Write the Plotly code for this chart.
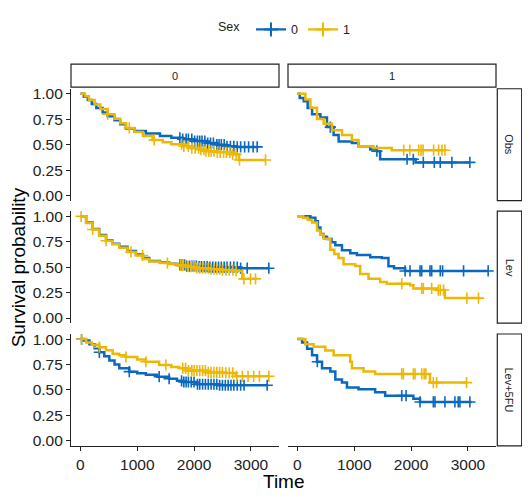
import numpy as np
import plotly.graph_objects as go

# ---------------- data ----------------
ROW_LABELS = ["Obs", "Lev", "Lev+5FU"]
COL_LABELS = ["0", "1"]
SEX_LEVELS = ["0", "1"]
X_TICKS = [0, 1000, 2000, 3000]
Y_TICKS = [0.0, 0.25, 0.5, 0.75, 1.0]
Y_TICK_TEXT = ["0.00", "0.25", "0.50", "0.75", "1.00"]

# Obs / column 0
obs_c0_s0_t = [0, 60, 130, 200, 280, 391, 480, 600, 700, 801, 950, 1152, 1400, 1600, 1795, 2000, 2205, 2400, 2556, 2750, 3111]
obs_c0_s0_s = [1.0, 0.97, 0.94, 0.90, 0.86, 0.816, 0.78, 0.74, 0.70, 0.658, 0.635, 0.61, 0.585, 0.568, 0.554, 0.535, 0.516, 0.50, 0.484, 0.478, 0.478]
obs_c0_s0_cens = [1750, 1800, 1860, 1900, 1960, 2010, 2060, 2100, 2140, 2190, 2240, 2290, 2340, 2400, 2440, 2480, 2530, 2580, 2640, 2700, 2760, 2820, 2890, 2960, 3040, 3111]
obs_c0_s1_t = [0, 80, 150, 250, 350, 479, 600, 700, 801, 950, 1100, 1269, 1450, 1600, 1795, 1950, 2100, 2205, 2400, 2672, 2789, 3258]
obs_c0_s1_s = [1.0, 0.975, 0.94, 0.895, 0.85, 0.80, 0.755, 0.71, 0.665, 0.625, 0.585, 0.547, 0.525, 0.505, 0.484, 0.465, 0.45, 0.436, 0.425, 0.405, 0.35, 0.35]
obs_c0_s1_cens = [479, 860, 1298, 1780, 1820, 1900, 1960, 2020, 2080, 2120, 2170, 2210, 2260, 2300, 2350, 2410, 2460, 2520, 2570, 2630, 2680, 2740, 2800, 3258]

# Obs / column 1
obs_c1_s0_t = [0, 40, 111, 180, 258, 404, 520, 637, 725, 959, 1075, 1281, 1398, 1456, 2080, 3035]
obs_c1_s0_s = [1.0, 0.96, 0.926, 0.86, 0.80, 0.768, 0.673, 0.595, 0.531, 0.516, 0.484, 0.452, 0.436, 0.357, 0.326, 0.326]
obs_c1_s0_cens = [579, 1398, 1930, 2040, 2216, 2409, 2514, 2719, 3035]
obs_c1_s1_t = [0, 100, 140, 228, 345, 462, 608, 784, 959, 1075, 1339, 1661, 2596]
obs_c1_s1_s = [1.0, 1.0, 0.943, 0.863, 0.753, 0.706, 0.642, 0.595, 0.547, 0.484, 0.468, 0.446, 0.446]
obs_c1_s1_cens = [1871, 1977, 2135, 2176, 2212, 2398, 2485, 2544, 2596]

# Lev / column 0
lev_c0_s0_t = [0, 100, 216, 330, 451, 560, 684, 830, 977, 1100, 1211, 1400, 1561, 1700, 1854, 2050, 2263, 2789, 3316]
lev_c0_s0_s = [1.0, 0.94, 0.876, 0.815, 0.764, 0.73, 0.70, 0.66, 0.625, 0.59, 0.56, 0.545, 0.534, 0.522, 0.511, 0.505, 0.50, 0.49, 0.49]
lev_c0_s0_cens = [1750, 1790, 1830, 1870, 1920, 1960, 2000, 2040, 2090, 2130, 2180, 2230, 2280, 2330, 2380, 2430, 2480, 2530, 2580, 2640, 2700, 2760, 2820, 2935, 3316]
lev_c0_s1_t = [0, 100, 216, 330, 451, 560, 684, 830, 977, 1100, 1211, 1400, 1561, 1700, 1854, 2050, 2263, 2500, 2731, 2848, 3111]
lev_c0_s1_s = [1.0, 0.935, 0.87, 0.81, 0.76, 0.725, 0.69, 0.65, 0.615, 0.58, 0.555, 0.54, 0.53, 0.518, 0.505, 0.49, 0.48, 0.47, 0.463, 0.385, 0.385]
lev_c0_s1_cens = [12, 216, 451, 889, 1094, 1532, 1760, 1800, 1850, 1900, 1950, 2000, 2050, 2100, 2150, 2200, 2250, 2300, 2350, 2400, 2450, 2500, 2560, 2620, 2680, 2740, 2877, 2994, 3082]

# Lev / column 1
lev_c1_s0_t = [0, 228, 316, 360, 404, 460, 520, 600, 667, 784, 930, 1047, 1281, 1485, 1602, 1700, 1895, 3357]
lev_c1_s0_s = [1.0, 0.985, 0.952, 0.89, 0.826, 0.80, 0.778, 0.745, 0.715, 0.667, 0.636, 0.62, 0.598, 0.589, 0.51, 0.49, 0.463, 0.463]
lev_c1_s0_cens = [1895, 1982, 2158, 2187, 2333, 2363, 2514, 2555, 2924, 3357]
lev_c1_s1_t = [0, 100, 180, 258, 345, 400, 462, 579, 650, 725, 812, 1018, 1105, 1251, 1456, 1573, 1982, 2041, 2450, 2596, 3211]
lev_c1_s1_s = [1.0, 0.985, 0.965, 0.94, 0.86, 0.82, 0.78, 0.67, 0.63, 0.59, 0.528, 0.512, 0.433, 0.385, 0.354, 0.338, 0.322, 0.291, 0.275, 0.196, 0.196]
lev_c1_s1_cens = [1836, 2187, 2216, 2363, 2480, 2514, 2572, 2982, 3187]

# Lev+5FU / column 0
l5_c0_s0_t = [0, 60, 158, 250, 333, 420, 509, 600, 684, 860, 1000, 1152, 1350, 1561, 1700, 1795, 2029, 2439, 3287]
l5_c0_s0_s = [1.0, 0.985, 0.95, 0.91, 0.87, 0.83, 0.79, 0.75, 0.714, 0.68, 0.665, 0.65, 0.63, 0.61, 0.59, 0.578, 0.556, 0.546, 0.546]
l5_c0_s0_cens = [20, 333, 860, 1386, 1561, 1780, 1820, 1860, 1900, 1950, 2000, 2060, 2100, 2150, 2200, 2250, 2300, 2350, 2400, 2450, 2500, 2550, 2600, 2650, 2700, 2760, 2820, 2880, 3287]
l5_c0_s1_t = [0, 100, 200, 333, 450, 567, 680, 801, 1000, 1152, 1386, 1600, 1737, 1854, 2205, 2556, 2731, 3316]
l5_c0_s1_s = [1.0, 0.967, 0.945, 0.92, 0.89, 0.857, 0.84, 0.824, 0.80, 0.777, 0.745, 0.725, 0.714, 0.69, 0.672, 0.667, 0.634, 0.634]
l5_c0_s1_cens = [20, 333, 801, 1152, 1503, 1800, 1850, 1900, 1960, 2000, 2050, 2100, 2150, 2200, 2250, 2300, 2350, 2400, 2450, 2500, 2560, 2620, 2680, 2750, 2850, 2950, 3050, 3150, 3316]

# Lev+5FU / column 1
l5_c1_s0_t = [0, 82, 170, 258, 345, 433, 579, 667, 784, 872, 1075, 1368, 1544, 2041, 2158, 3064]
l5_c1_s0_s = [1.0, 0.967, 0.904, 0.84, 0.777, 0.714, 0.682, 0.603, 0.572, 0.524, 0.508, 0.477, 0.444, 0.413, 0.382, 0.382]
l5_c1_s0_cens = [350, 1836, 1912, 2158, 2392, 2421, 2596, 2772, 2830, 2860, 3035]
l5_c1_s1_t = [0, 140, 286, 491, 637, 930, 959, 1163, 1368, 2333, 2977]
l5_c1_s1_s = [1.0, 0.95, 0.924, 0.887, 0.84, 0.777, 0.714, 0.682, 0.657, 0.572, 0.572]
l5_c1_s1_cens = [1836, 1865, 2041, 2070, 2187, 2230, 2260, 2392, 2450, 2977]

CURVES = {
    (0, 0): [(obs_c0_s0_t, obs_c0_s0_s, obs_c0_s0_cens), (obs_c0_s1_t, obs_c0_s1_s, obs_c0_s1_cens)],
    (0, 1): [(obs_c1_s0_t, obs_c1_s0_s, obs_c1_s0_cens), (obs_c1_s1_t, obs_c1_s1_s, obs_c1_s1_cens)],
    (1, 0): [(lev_c0_s0_t, lev_c0_s0_s, lev_c0_s0_cens), (lev_c0_s1_t, lev_c0_s1_s, lev_c0_s1_cens)],
    (1, 1): [(lev_c1_s0_t, lev_c1_s0_s, lev_c1_s0_cens), (lev_c1_s1_t, lev_c1_s1_s, lev_c1_s1_cens)],
    (2, 0): [(l5_c0_s0_t, l5_c0_s0_s, l5_c0_s0_cens), (l5_c0_s1_t, l5_c0_s1_s, l5_c0_s1_cens)],
    (2, 1): [(l5_c1_s0_t, l5_c1_s0_s, l5_c1_s0_cens), (l5_c1_s1_t, l5_c1_s1_s, l5_c1_s1_cens)],
}

# ---------------- style / layout ----------------
COLORS = ["#0A68BF", "#EDB705"]
OFF = 8                      # page body margin of the browser
W, H = 530 - OFF, 497 - OFF  # figure size so it fits in the window
FONT = "Liberation Sans, Arial, sans-serif"
COL_PX = [(71, 279), (288, 496)]
ROW_PX = [(86.7, 200.0), (210.7, 324.0), (335.0, 448.3)]
TOP_STRIP_PX = (61.7, 85.0)
RIGHT_STRIP_PX = (497.3, 521.7)
X_RANGE = [-166, 3495]
Y_RANGE = [-0.05, 1.05]


def px_x(v):
    return (v - OFF) / W


def px_y(v):
    return 1 - (v - OFF) / H


def step_value(ts, ss, t):
    idx = np.searchsorted(np.asarray(ts), t, side="right") - 1
    return np.asarray(ss)[np.clip(idx, 0, len(ss) - 1)]


fig = go.Figure()
layout = {}
for r in range(3):
    for c in range(2):
        k = r * 2 + c + 1
        xa = "xaxis" if k == 1 else f"xaxis{k}"
        ya = "yaxis" if k == 1 else f"yaxis{k}"
        xref = "x" if k == 1 else f"x{k}"
        yref = "y" if k == 1 else f"y{k}"
        bottom = r == 2
        left = c == 0
        layout[xa] = dict(
            domain=[px_x(COL_PX[c][0]), px_x(COL_PX[c][1])],
            range=X_RANGE, anchor=yref, showgrid=False, zeroline=False,
            showline=bottom, linecolor="#222", linewidth=1.2,
            ticks="outside" if bottom else "", ticklen=4, tickwidth=1.2, tickcolor="#222",
            tickvals=X_TICKS, showticklabels=bottom,
            tickfont=dict(size=15.5, color="#222", family=FONT),
        )
        layout[ya] = dict(
            domain=[px_y(ROW_PX[r][1]), px_y(ROW_PX[r][0])],
            range=Y_RANGE, anchor=xref, showgrid=False, zeroline=False,
            showline=left, linecolor="#222", linewidth=1.2,
            ticks="outside" if left else "", ticklen=4, tickwidth=1.2, tickcolor="#222",
            tickvals=Y_TICKS, ticktext=Y_TICK_TEXT, showticklabels=left,
            tickfont=dict(size=15.5, color="#222", family=FONT),
        )
        for g, (ts, ss, cens) in enumerate(CURVES[(r, c)]):
            fig.add_trace(go.Scatter(
                x=ts, y=ss, mode="lines", line=dict(color=COLORS[g], width=2.5, shape="hv"),
                xaxis=xref, yaxis=yref, showlegend=False, legendgroup=SEX_LEVELS[g],
                hoverinfo="skip",
            ))
            cy = step_value(ts, ss, np.asarray(cens))
            fig.add_trace(go.Scatter(
                x=cens, y=cy, mode="markers",
                marker=dict(symbol="cross-thin", size=8, line=dict(color=COLORS[g], width=1.6)),
                xaxis=xref, yaxis=yref, showlegend=False, legendgroup=SEX_LEVELS[g],
                hoverinfo="skip",
            ))

# legend-only traces
for g, lab in enumerate(SEX_LEVELS):
    fig.add_trace(go.Scatter(
        x=[None], y=[None], mode="lines+markers", name=lab,
        line=dict(color=COLORS[g], width=2.4),
        marker=dict(symbol="cross-thin", size=10, line=dict(color=COLORS[g], width=2)),
        legendgroup=lab, showlegend=True,
    ))

shapes = []
annotations = []
for c, lab in enumerate(COL_LABELS):
    x0, x1 = px_x(COL_PX[c][0]), px_x(COL_PX[c][1])
    y0, y1 = px_y(TOP_STRIP_PX[1]), px_y(TOP_STRIP_PX[0])
    shapes.append(dict(type="rect", xref="paper", yref="paper", x0=x0, x1=x1, y0=y0, y1=y1,
                       line=dict(color="#222", width=1.2), fillcolor="white", layer="below"))
    annotations.append(dict(text=lab, xref="paper", yref="paper", x=(x0 + x1) / 2, y=(y0 + y1) / 2,
                            xanchor="center", yanchor="middle",
                            showarrow=False, font=dict(size=11, color="#1a1a1a", family=FONT)))
for r, lab in enumerate(ROW_LABELS):
    x0, x1 = px_x(RIGHT_STRIP_PX[0]), px_x(RIGHT_STRIP_PX[1])
    y0, y1 = px_y(ROW_PX[r][1]), px_y(ROW_PX[r][0])
    shapes.append(dict(type="rect", xref="paper", yref="paper", x0=x0, x1=x1, y0=y0, y1=y1,
                       line=dict(color="#222", width=1.2), fillcolor="white", layer="below"))
    annotations.append(dict(text=lab, xref="paper", yref="paper", x=(x0 + x1) / 2, y=(y0 + y1) / 2,
                            xanchor="center", yanchor="middle",
                            showarrow=False, textangle=90, font=dict(size=11, color="#1a1a1a", family=FONT)))

annotations.append(dict(text="Survival probability", xref="paper", yref="paper", x=px_x(18.5), y=px_y(268),
                        xanchor="center", yanchor="middle",
                        showarrow=False, textangle=-90, font=dict(size=19, color="black", family=FONT)))
annotations.append(dict(text="Time", xref="paper", yref="paper", x=px_x(283.5), y=px_y(484),
                        xanchor="center", yanchor="middle",
                        showarrow=False, font=dict(size=19, color="black", family=FONT)))

fig.update_layout(
    width=W, height=H, margin=dict(l=0, r=0, t=0, b=0),
    paper_bgcolor="white", plot_bgcolor="white",
    shapes=shapes, annotations=annotations,
    legend=dict(orientation="h", x=px_x(286), xanchor="center", y=px_y(27), yanchor="middle",
                title=dict(text="Sex ", font=dict(size=12.5, color="#222", family=FONT)),
                font=dict(size=12.5, color="#222", family=FONT), itemwidth=30,
                tracegroupgap=0, bgcolor="rgba(0,0,0,0)"),
    **layout,
)
fig.write_html("out.html")
